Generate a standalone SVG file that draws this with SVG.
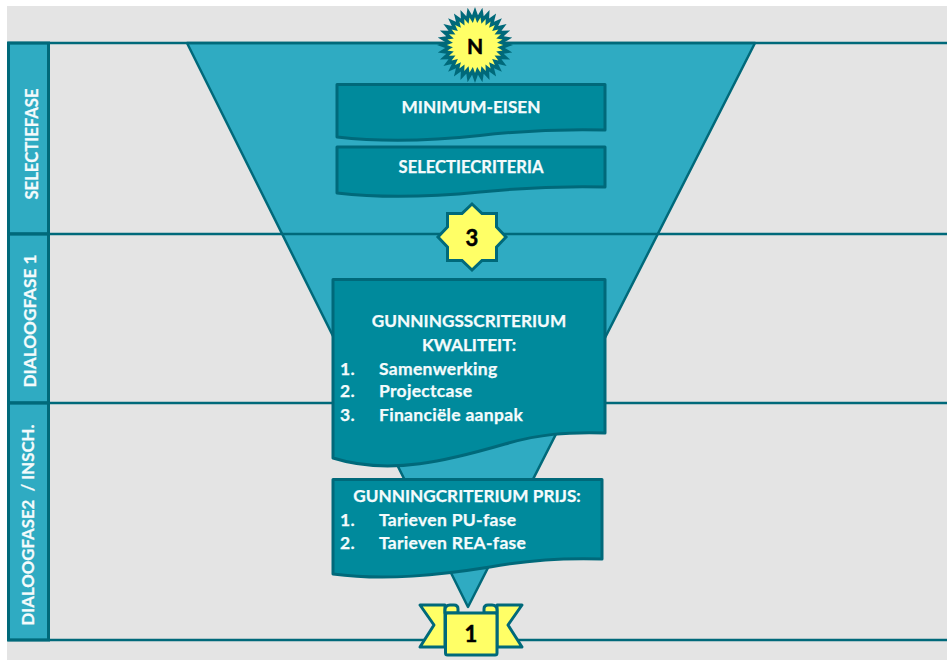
<svg xmlns="http://www.w3.org/2000/svg" width="947" height="662" viewBox="0 0 947 662">
<style>
.box{fill:#008A9C;stroke:#00697A;stroke-width:3;stroke-linejoin:round}
.lane{fill:#2FABC2;stroke:#00697A;stroke-width:3}
.ln{stroke:#00697A;stroke-width:2.5;fill:none}
.y{fill:#FFFF66;stroke:#00697A;stroke-width:3;stroke-linejoin:round}
text{font-family:"Lato","Liberation Sans",sans-serif;font-weight:700;fill:#F4FBFC;stroke:#F4FBFC;stroke-width:.25;font-size:17.2px}
.c{text-anchor:middle}
.i{font-size:17.5px;letter-spacing:.3px}
.k{fill:#000;stroke:#000;stroke-width:.5;font-size:21px;text-anchor:middle}
</style>
<defs>
<polygon id="sun" points="0,-38 2.94,-29.86 7.41,-37.27 8.71,-28.71 14.54,-35.11 14.14,-26.46 21.11,-31.6 19.03,-23.19 26.87,-26.87 23.19,-19.03 31.6,-21.11 26.46,-14.14 35.11,-14.54 28.71,-8.71 37.27,-7.41 29.86,-2.94 38,0 29.86,2.94 37.27,7.41 28.71,8.71 35.11,14.54 26.46,14.14 31.6,21.11 23.19,19.03 26.87,26.87 19.03,23.19 21.11,31.6 14.14,26.46 14.54,35.11 8.71,28.71 7.41,37.27 2.94,29.86 0,38 -2.94,29.86 -7.41,37.27 -8.71,28.71 -14.54,35.11 -14.14,26.46 -21.11,31.6 -19.03,23.19 -26.87,26.87 -23.19,19.03 -31.6,21.11 -26.46,14.14 -35.11,14.54 -28.71,8.71 -37.27,7.41 -29.86,2.94 -38,0 -29.86,-2.94 -37.27,-7.41 -28.71,-8.71 -35.11,-14.54 -26.46,-14.14 -31.6,-21.11 -23.19,-19.03 -26.87,-26.87 -19.03,-23.19 -21.11,-31.6 -14.14,-26.46 -14.54,-35.11 -8.71,-28.71 -7.41,-37.27 -2.94,-29.86"/>
</defs>
<rect width="947" height="662" fill="#fff"/>
<rect x="7" y="6" width="940" height="654" fill="#E4E4E4"/>
<g id="lanes">
<rect class="lane" x="8.5" y="43" width="40" height="191"/>
<rect class="lane" x="8.5" y="234" width="40" height="169"/>
<rect class="lane" x="8.5" y="403" width="40" height="237"/>
<text class="c" style="font-size:16.700px" transform="translate(37.500 144) rotate(-90)">SELECTIEFASE</text>
<text class="c" transform="translate(36 321) rotate(-90)">DIALOOGFASE 1</text>
<text class="c" style="font-size:16.800px" transform="translate(33.500 525) rotate(-90)" xml:space="preserve">DIALOOGFASE2  / INSCH.</text>
</g>
<g id="funnel"><polygon points="187,43 755,43 468,607" fill="#2FABC2" stroke="#00697A" stroke-width="2.5" stroke-linejoin="round"/></g>
<g id="connectors">
<line class="ln" x1="8" y1="43" x2="947" y2="43"/>
<line class="ln" x1="8" y1="234" x2="947" y2="234"/>
<line class="ln" x1="8" y1="403" x2="947" y2="403"/>
<line class="ln" x1="8" y1="640" x2="947" y2="640"/>
</g>
<g id="node-n">
<use href="#sun" transform="translate(475 45)" fill="#00697A"/>
<use href="#sun" transform="translate(475 45) scale(.74)" fill="#FFFF66"/>
<text class="k" x="475" y="53.500">N</text>
</g>
<g id="node-minimum">
<path class="box" d="M337 84.500H605V130C565 129 520 131 480 135.500C430 141 380 142 337 137Z"/>
<text class="c" x="471" y="113">MINIMUM-EISEN</text>
</g>
<g id="node-selectie">
<path class="box" d="M337 147H605V187C565 186 520 188 480 192C430 197 380 198 337 193Z"/>
<text class="c" style="font-size:16.600px" x="471" y="173">SELECTIECRITERIA</text>
</g>
<g id="node-3">
<polygon class="y" style="stroke-linejoin:miter" points="472,204 482,213.500 496.500,213.500 496.500,227 506,237 496.500,247 496.500,260.500 482,260.500 472,270 462,260.500 447.500,260.500 447.500,247 438,237 447.500,227 447.500,213.500 462,213.500"/>
<text class="k" x="472" y="246" style="font-size:22px">3</text>
</g>
<g id="node-kwaliteit">
<path class="box" d="M333 279.500H605V433C565 432 540 434 505 444C450 460 390 476 333 458Z"/>
<text class="c" x="469" y="327">GUNNINGSSCRITERIUM</text>
<text class="c" x="469" y="351">KWALITEIT:</text>
<text class="i" x="340" y="375">1.</text><text class="i" x="379" y="375">Samenwerking</text>
<text class="i" x="340" y="397">2.</text><text class="i" x="379" y="397">Projectcase</text>
<text class="i" x="340" y="421">3.</text><text class="i" x="379" y="421">Financiële aanpak</text>
</g>
<g id="node-prijs">
<path class="box" d="M333 479.500H602V559C560 558 530 560 490 567C440 575 385 581 333 574Z"/>
<text class="c" x="467" y="502">GUNNINGCRITERIUM PRIJS:</text>
<text class="i" x="340" y="526">1.</text><text class="i" x="379" y="526">Tarieven PU-fase</text>
<text class="i" x="340" y="549">2.</text><text class="i" x="379" y="549">Tarieven REA-fase</text>
</g>
<g id="node-1">
<polygon class="y" points="445,605 420,605 434,625 420,647 445,647"/>
<polygon class="y" points="497,605 522,605 508,625 522,647 497,647"/>
<path class="y" d="M445 613V610Q445 605 450 605H454Q458 605 458 609V613Z"/>
<path class="y" d="M497 613V610Q497 605 492 605H488Q484 605 484 609V613Z"/>
<rect class="y" x="445.500" y="613" width="51.500" height="42" rx="2"/>
<text class="k" x="471" y="642" style="font-size:22px">1</text>
</g>
</svg>
